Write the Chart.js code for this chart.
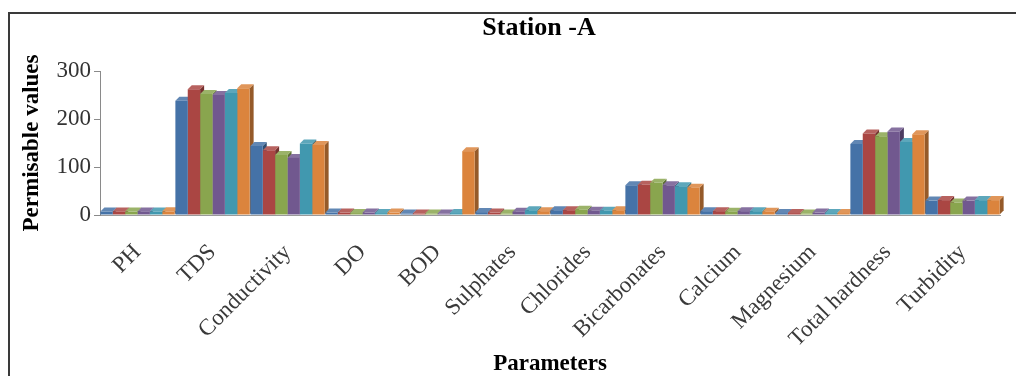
<!DOCTYPE html>
<html><head><meta charset="utf-8">
<script src="https://cdn.jsdelivr.net/npm/chart.js@4/dist/chart.umd.min.js"></script>
<style>html,body{margin:0;padding:0;background:#fff;overflow:hidden}#w{width:1016px;height:376px;position:relative}</style>
</head><body><div id="w"><canvas id="c" width="1016" height="376"></canvas></div>
<script>
const categories = ['PH','TDS','Conductivity','DO','BOD','Sulphates','Chlorides','Bicarbonates','Calcium','Magnesium','Total hardness','Turbidity'];
const seriesNames = ['Series 1','Series 2','Series 3','Series 4','Series 5','Series 6'];
const series1 = [7.2, 238, 144, 5, 3, 6, 10, 62, 8, 4, 148, 30];
const series2 = [7.4, 262, 135, 5, 3, 5, 10, 63, 8, 4, 170, 31];
const series3 = [7.1, 252, 125, 4, 3, 3, 11, 67, 7, 3, 164, 26];
const series4 = [7.5, 250, 119, 5, 3, 7, 9, 62, 8, 5, 174, 30];
const series5 = [7.3, 254, 149, 4, 4, 10, 9, 60, 8, 4, 152, 31];
const series6 = [7.6, 264, 146, 5, 133, 8, 10, 57, 7, 4, 168, 31];
const yTickValues = [0, 100, 200, 300];

const frontColors = ['#4572A7','#AA4643','#89A54E','#71588F','#4198AF','#DB843D'];
function shade(hex, f){
  const n = parseInt(hex.slice(1),16);
  let r=(n>>16)&255,g=(n>>8)&255,b=n&255;
  if(f<1){r*=f;g*=f;b*=f;} else {r=r+(255-r)*(f-1);g=g+(255-g)*(f-1);b=b+(255-b)*(f-1);}
  return 'rgb('+Math.round(r)+','+Math.round(g)+','+Math.round(b)+')';
}
const sideColors = frontColors.map(c=>shade(c,0.68));
const topColors = frontColors.map(c=>shade(c,1.15));
const allSeries = [series1,series2,series3,series4,series5,series6];
const DEPTH = 4;

const bar3d = {
  id:'bar3d',
  afterLayout(chart){
    if (chart.titleBlock){ chart.titleBlock.left -= 11; chart.titleBlock.right -= 11; }
  },
  beforeDatasetsDraw(chart){
    const ctx = chart.ctx;
    ctx.save();
    const n = chart.data.labels.length;
    for(let i=0;i<n;i++){
      for(let d=0; d<chart.data.datasets.length; d++){
        const el = chart.getDatasetMeta(d).data[i];
        const p = el.getProps(['x','y','base','width'], true);
        const l = p.x - p.width/2, r = p.x + p.width/2;
        ctx.fillStyle = sideColors[d];
        ctx.beginPath();
        ctx.moveTo(r, p.y); ctx.lineTo(r+DEPTH, p.y-DEPTH); ctx.lineTo(r+DEPTH, p.base-DEPTH); ctx.lineTo(r, p.base);
        ctx.closePath(); ctx.fill();
        ctx.fillStyle = topColors[d];
        ctx.beginPath();
        ctx.moveTo(l, p.y); ctx.lineTo(l+DEPTH, p.y-DEPTH); ctx.lineTo(r+DEPTH, p.y-DEPTH); ctx.lineTo(r, p.y);
        ctx.closePath(); ctx.fill();
      }
    }
    ctx.restore();
  }
};
const frame = {
  id:'frame',
  beforeDraw(chart){
    const ctx = chart.ctx;
    ctx.save();
    ctx.fillStyle='#fff'; ctx.fillRect(0,0,chart.width,chart.height);
    ctx.strokeStyle='#3a3a3a'; ctx.lineWidth=2;
    ctx.beginPath(); ctx.moveTo(9,376); ctx.lineTo(9,13); ctx.lineTo(1016,13); ctx.stroke();
    ctx.restore();
  }
};

new Chart(document.getElementById('c'), {
  type:'bar',
  data:{
    labels: categories,
    datasets: allSeries.map((s,i)=>({label:seriesNames[i], data:s, backgroundColor:frontColors[i], borderWidth:0, barPercentage:1, categoryPercentage:0.99}))
  },
  options:{
    responsive:false, animation:false, devicePixelRatio:1,
    layout:{padding:{left:0,right:16,top:0,bottom:0}},
    plugins:{
      legend:{display:false}, tooltip:{enabled:false},
      title:{display:true, text:'Station -A', fullSize:false, color:'#000',
        font:{family:'Liberation Serif', size:26, weight:'bold', lineHeight:1.2},
        padding:{top:13, bottom:26.8}}
    },
    scales:{
      x:{
        grid:{drawOnChartArea:false, drawTicks:false},
        border:{display:true, color:'#9a9a9a', width:1},
        ticks:{autoSkip:false, maxRotation:45, minRotation:45, padding:24, color:'#3a3a3a',
          font:{family:'Liberation Serif', size:23}},
        title:{display:true, text:'Parameters', color:'#000', padding:{top:0,bottom:0},
          font:{family:'Liberation Serif', size:23, weight:'bold', lineHeight:1}},
        afterFit(s){ s.height = 161; }
      },
      y:{
        min:0, max:300,
        afterBuildTicks(s){ s.ticks = yTickValues.map(v=>({value:v})); },
        grid:{drawOnChartArea:false, drawTicks:true, tickLength:6, color:'#8a8a8a'},
        border:{display:true, color:'#8a8a8a', width:1},
        ticks:{padding:3, color:'#333', font:{family:'Liberation Serif', size:23}},
        title:{display:true, text:'Permisable values', color:'#000', padding:{top:18,bottom:0},
          font:{family:'Liberation Serif', size:23, weight:'bold', lineHeight:1.2}},
        afterFit(s){ s.width = 100; }
      }
    }
  },
  plugins:[frame, bar3d]
});
</script>
</body></html>
